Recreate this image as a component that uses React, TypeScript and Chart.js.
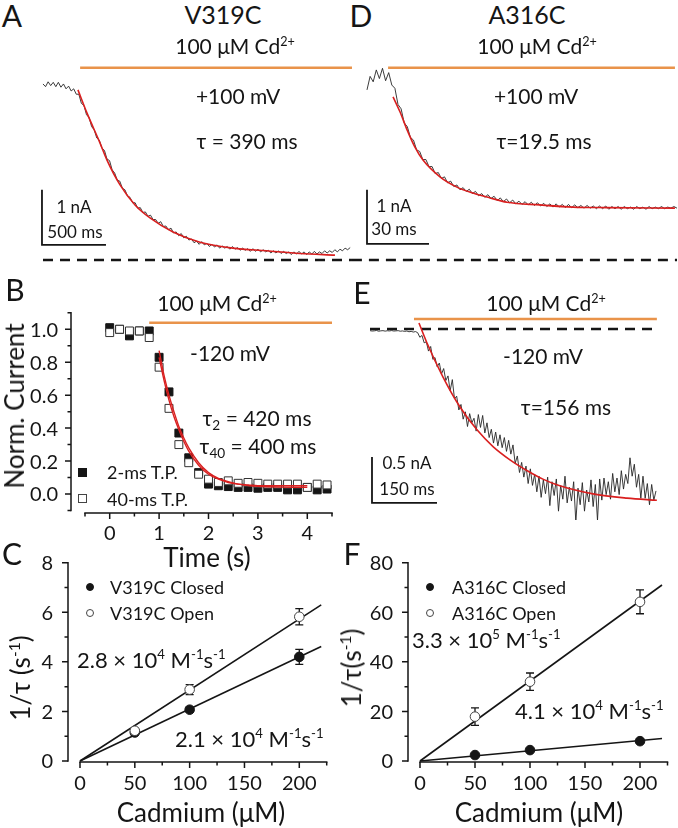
import React, { useEffect, useRef } from "react";
import { Chart, registerables } from "chart.js";

Chart.register(...registerables);

const FONT = "Lato, 'Open Sans', 'DejaVu Sans', sans-serif";
const INK = "#151515";
const RED = "#d91f1f";
const ORANGE = "#e9934a";

// ===== Panel A : V319C, +100 mV (time ms, current nA) =====
const traceA_step = 20;
const traceA = [3.26, 3.21, 3.30, 3.23, 3.29, 3.21, 3.29, 3.20, 3.26, 3.17, 3.22, 3.13, 3.17, 3.07, 3.07, 2.90, 2.86, 2.69, 2.64, 2.47, 2.41, 2.26, 2.22, 2.07, 2.03, 1.87, 1.84, 1.67, 1.61, 1.48, 1.46, 1.33, 1.30, 1.19, 1.16, 1.06, 1.06, 0.96, 0.97, 0.88, 0.89, 0.81, 0.83, 0.75, 0.75, 0.68, 0.71, 0.62, 0.63, 0.56, 0.59, 0.50, 0.52, 0.45, 0.49, 0.41, 0.44, 0.37, 0.39, 0.32, 0.35, 0.29, 0.34, 0.28, 0.31, 0.25, 0.29, 0.24, 0.28, 0.22, 0.26, 0.22, 0.25, 0.20, 0.25, 0.20, 0.23, 0.18, 0.22, 0.18, 0.21, 0.16, 0.21, 0.16, 0.20, 0.15, 0.19, 0.15, 0.18, 0.13, 0.17, 0.13, 0.17, 0.12, 0.16, 0.12, 0.15, 0.10, 0.15, 0.11, 0.16, 0.11, 0.15, 0.10, 0.15, 0.11, 0.16, 0.11, 0.15, 0.12, 0.17, 0.13, 0.17, 0.14, 0.19, 0.15, 0.20, 0.17, 0.22, 0.19, 0.23];
const fitA_t = [273, 344, 445, 500, 602, 719, 836, 1016, 1227, 1484, 1747, 2008, 2281];
const fitA_v = [3.15, 2.72, 2.17, 1.85, 1.39, 1.02, 0.78, 0.52, 0.33, 0.22, 0.17, 0.12, 0.09];
const barA_t = [-8, -8, 492];
const barA_v = [1.30, 0.28, 0.28];
const cdA_t = [290, 2414];
const zeroA_t = [0, 2414];

// ===== Panel D : A316C, +100 mV =====
const traceD_step = 1.5;
const traceD = [3.15, 3.40, 3.30, 3.52, 3.36, 3.55, 3.32, 3.47, 3.24, 3.18, 2.88, 2.80, 2.54, 2.47, 2.27, 2.22, 2.04, 2.01, 1.86, 1.86, 1.73, 1.73, 1.60, 1.62, 1.51, 1.54, 1.43, 1.46, 1.36, 1.39, 1.30, 1.34, 1.27, 1.31, 1.23, 1.27, 1.19, 1.23, 1.16, 1.21, 1.14, 1.18, 1.10, 1.15, 1.08, 1.13, 1.06, 1.11, 1.04, 1.09, 1.03, 1.08, 1.02, 1.07, 1.01, 1.06, 1.00, 1.05, 0.99, 1.04, 0.98, 1.04, 0.98, 1.03, 0.97, 1.03, 0.97, 1.02, 0.97, 1.01, 0.96, 1.01, 0.96, 1.00, 0.95, 1.00, 0.95, 1.00, 0.94, 0.99, 0.95, 0.99, 0.94, 0.99, 0.95, 0.98, 0.94, 0.99, 0.95, 0.98, 0.94, 0.99, 0.95, 0.98, 0.95, 0.99, 0.95, 0.98, 0.96, 0.99, 0.96];
const fitD_t = [12.6, 16, 19.4, 23.2, 27.1, 35.3, 43.5, 51.3, 59.5, 67.7, 83.7, 99.7, 116, 149];
const fitD_v = [3.02, 2.74, 2.41, 2.09, 1.85, 1.54, 1.35, 1.24, 1.15, 1.07, 1.02, 0.98, 0.97, 0.96];
const barD_t = [0, 0, 30];
const barD_v = [1.30, 0.30, 0.30];
const cdD_t = [10.2, 149];
const zeroD_t = [-7.3, 150];
const cdLevelTop = 3.56;

// ===== Panel E : A316C, -120 mV =====
const traceE_step = 5;
const traceE = [-0.018, -0.022, -0.02, -0.016, -0.024, -0.02, -0.018, -0.023, -0.019, -0.021, -0.017, -0.022, -0.02, -0.018, -0.024, -0.021, -0.026, -0.022, -0.03, -0.026, -0.033, -0.028, -0.04, -0.09, -0.07, -0.15, -0.14, -0.24, -0.19, -0.33, -0.31, -0.41, -0.37, -0.49, -0.43, -0.56, -0.51, -0.67, -0.55, -0.76, -0.73, -0.88, -0.82, -0.98, -0.90, -1.06, -0.92, -1.02, -0.97, -1.11, -0.93, -1.07, -0.94, -1.13, -1.02, -1.18, -1.09, -1.24, -1.12, -1.27, -1.15, -1.29, -1.18, -1.33, -1.21, -1.36, -1.26, -1.46, -1.38, -1.56, -1.45, -1.61, -1.49, -1.68, -1.52, -1.70, -1.58, -1.77, -1.60, -1.83, -1.64, -1.79, -1.61, -1.92, -1.66, -1.81, -1.63, -1.98, -1.70, -1.85, -1.60, -1.89, -1.72, -1.87, -1.66, -2.10, -1.73, -1.91, -1.67, -1.98, -1.75, -1.88, -1.64, -1.93, -1.69, -2.08, -1.63, -1.86, -1.62, -1.80, -1.66, -1.85, -1.57, -1.77, -1.62, -1.80, -1.54, -1.74, -1.58, -1.68, -1.40, -1.60, -1.47, -1.72, -1.58, -1.84, -1.60, -1.84, -1.68, -1.91, -1.69, -1.86, -1.76];
const fitE_t = [113, 131.5, 168.5, 207.7, 246.9, 283.9, 323, 362, 399, 438, 514.6, 593, 662];
const fitE_v = [0.065, -0.152, -0.522, -0.848, -1.096, -1.278, -1.422, -1.538, -1.632, -1.705, -1.792, -1.838, -1.862];
const barE_t = [4.6, 4.6, 154.6];
const barE_v = [-1.39, -1.89, -1.89];
const cdE_t = [101.5, 662];
const cdLevelE = 0.109;
const zeroE_t = [0, 662];

// ===== Panel B : normalized current vs time (s) =====
const bTime = [0, 0.2, 0.4, 0.6, 0.8, 1.0, 1.2, 1.4, 1.6, 1.8, 2.0, 2.2, 2.4, 2.6, 2.8, 3.0, 3.2, 3.4, 3.6, 3.8, 4.0, 4.2, 4.4];
const b2ms = [1.01, 1.00, 0.96, 0.99, 0.99, 0.83, 0.62, 0.37, 0.22, 0.13, 0.06, 0.05, 0.045, 0.04, 0.04, 0.035, 0.04, 0.04, 0.025, 0.025, 0.04, 0.025, 0.03];
const b40ms = [0.98, 1.00, 0.99, 0.99, 0.95, 0.77, 0.52, 0.30, 0.19, 0.12, 0.09, 0.07, 0.08, 0.065, 0.07, 0.065, 0.06, 0.06, 0.06, 0.06, 0.04, 0.06, 0.055];
const bFit_t = [1.0, 1.1, 1.2, 1.3, 1.4, 1.5, 1.6, 1.8, 2.0, 2.2, 2.4, 2.6, 2.8, 3.0, 3.5, 4.0];
const bFit2 = [0.87, 0.72, 0.60, 0.50, 0.41, 0.34, 0.28, 0.19, 0.13, 0.095, 0.075, 0.06, 0.052, 0.047, 0.042, 0.04];
const bFit40 = [0.83, 0.69, 0.57, 0.47, 0.39, 0.32, 0.26, 0.175, 0.12, 0.09, 0.07, 0.06, 0.055, 0.05, 0.05, 0.05];
const bCd_t = [0.8, 4.5];
const bCdLevel = 1.04;
const bYTicks = [0, 0.2, 0.4, 0.6, 0.8, 1.0];
const bYLabels = ["0.0", "0.2", "0.4", "0.6", "0.8", "1.0"];
const bYMinor = [-0.1, 0.1, 0.3, 0.5, 0.7, 0.9, 1.1];
const bXTicks = [0, 1, 2, 3, 4];
const bXLabels = ["0", "1", "2", "3", "4"];
const bXMinor = [-0.5, 0.5, 1.5, 2.5, 3.5, 4.5];

// ===== Panel C : V319C rates =====
const cdConc = [50, 100, 200];
const cClosed = [1.15, 2.07, 4.2];
const cClosedErr = [0.1, 0.08, 0.3];
const cOpen = [1.22, 2.88, 5.82];
const cOpenErr = [0.12, 0.2, 0.33];
const fitConc = [0, 220];
const cClosedFit = [0, 4.62];
const cOpenFit = [0, 6.3];
const cYTicks = [0, 2, 4, 6, 8];
const cYLabels = ["0", "2", "4", "6", "8"];
const cYMinor = [1, 3, 5, 7];

// ===== Panel F : A316C rates =====
const fClosed = [2.4, 4.4, 8.0];
const fClosedErr = [0.5, 0.5, 0.8];
const fOpen = [17.9, 32, 64.2];
const fOpenErr = [3.5, 3.5, 4.8];
const fClosedFit = [0, 9.1];
const fOpenFit = [0, 71];
const fYTicks = [0, 20, 40, 60, 80];
const fYLabels = ["0", "20", "40", "60", "80"];
const fYMinor = [10, 30, 50, 70];

const concTicks = [0, 50, 100, 150, 200];
const concLabels = ["0", "50", "100", "150", "200"];
const concMinor = [25, 75, 125, 175, 225];

// ---------- helpers ----------
type Box = { left: number; top: number; width: number; height: number };
type Mapping = { xMin: number; xMax: number; pxL: number; pxR: number; yMin: number; yMax: number; pyB: number; pyT: number };

const pts = (xs: number[], ys: number[]) => xs.map((x, i) => ({ x, y: ys[i] }));
const series = (ys: number[], dt: number) => ys.map((y, i) => ({ x: i * dt, y }));
const flat = (xs: number[], level: number) => xs.map((x) => ({ x, y: level }));

const line = (data: any[], color: string, width: number, extra: any = {}) => ({
  data,
  showLine: true,
  borderColor: color,
  backgroundColor: color,
  borderWidth: width,
  pointRadius: 0,
  pointHoverRadius: 0,
  fill: false,
  tension: 0,
  clip: false,
  ...extra,
});

type AxesCfg = {
  yOff: number;
  xOff: number;
  yLine: [number, number];
  xLine: [number, number];
  yMajor: number[];
  yLabels: string[];
  yMinor: number[];
  xMajor: number[];
  xLabels: string[];
  xMinor: number[];
  yGap: number;
  xGap: number;
};

function axesPlugin(cfg: AxesCfg) {
  return {
    id: "originAxes",
    afterDatasetsDraw(chart: any) {
      const { ctx, chartArea, scales } = chart;
      const xs = scales.x;
      const ys = scales.y;
      const ax = chartArea.left + cfg.yOff;
      const ay = chartArea.bottom + cfg.xOff;
      ctx.save();
      ctx.strokeStyle = INK;
      ctx.fillStyle = INK;
      ctx.lineWidth = 1.5;
      ctx.lineCap = "square";
      ctx.beginPath();
      ctx.moveTo(ax, ys.getPixelForValue(cfg.yLine[0]));
      ctx.lineTo(ax, ys.getPixelForValue(cfg.yLine[1]));
      ctx.moveTo(xs.getPixelForValue(cfg.xLine[0]), ay);
      ctx.lineTo(xs.getPixelForValue(cfg.xLine[1]), ay);
      ctx.stroke();
      ctx.lineCap = "butt";
      ctx.beginPath();
      cfg.yMajor.forEach((v) => {
        const p = ys.getPixelForValue(v);
        ctx.moveTo(ax, p);
        ctx.lineTo(ax - 6, p);
      });
      cfg.yMinor.forEach((v) => {
        const p = ys.getPixelForValue(v);
        ctx.moveTo(ax, p);
        ctx.lineTo(ax - 3.5, p);
      });
      cfg.xMajor.forEach((v) => {
        const p = xs.getPixelForValue(v);
        ctx.moveTo(p, ay);
        ctx.lineTo(p, ay + 6);
      });
      cfg.xMinor.forEach((v) => {
        const p = xs.getPixelForValue(v);
        ctx.moveTo(p, ay);
        ctx.lineTo(p, ay + 3.5);
      });
      ctx.stroke();
      ctx.font = `20px ${FONT}`;
      ctx.textAlign = "right";
      ctx.textBaseline = "middle";
      cfg.yMajor.forEach((v, i) => ctx.fillText(cfg.yLabels[i], ax - cfg.yGap, ys.getPixelForValue(v) + 1));
      ctx.textAlign = "center";
      cfg.xMajor.forEach((v, i) => ctx.fillText(cfg.xLabels[i], xs.getPixelForValue(v), ay + cfg.xGap));
      ctx.restore();
    },
  };
}

const errorBarPlugin = {
  id: "errBars",
  beforeDatasetDraw(chart: any, args: any) {
    const ds: any = chart.data.datasets[args.index];
    if (!ds.errs) return;
    const ys = chart.scales.y;
    const ctx = chart.ctx;
    ctx.save();
    ctx.strokeStyle = INK;
    ctx.lineWidth = 1.3;
    args.meta.data.forEach((pt: any, i: number) => {
      const v = ds.data[i].y;
      const e = ds.errs[i];
      const top = ys.getPixelForValue(v + e);
      const bot = ys.getPixelForValue(v - e);
      ctx.beginPath();
      ctx.moveTo(pt.x, top);
      ctx.lineTo(pt.x, bot);
      ctx.moveTo(pt.x - 4, top);
      ctx.lineTo(pt.x + 4, top);
      ctx.moveTo(pt.x - 4, bot);
      ctx.lineTo(pt.x + 4, bot);
      ctx.stroke();
    });
    ctx.restore();
  },
};

function build(canvas: HTMLCanvasElement, box: Box, m: Mapping, datasets: any[], plugins: any[]) {
  return new Chart(canvas, {
    type: "scatter",
    data: { datasets },
    options: {
      animation: false,
      responsive: false,
      devicePixelRatio: 1,
      events: [],
      layout: {
        padding: {
          left: m.pxL - box.left,
          right: box.left + box.width - m.pxR,
          top: m.pyT - box.top,
          bottom: box.top + box.height - m.pyB,
        },
      },
      plugins: { legend: { display: false }, tooltip: { enabled: false } },
      scales: {
        x: { type: "linear", display: false, bounds: "data", min: m.xMin, max: m.xMax },
        y: { type: "linear", display: false, bounds: "data", min: m.yMin, max: m.yMax },
      },
    } as any,
    plugins,
  });
}

// ---------- layout ----------
const BOX_A: Box = { left: 26, top: 55, width: 334, height: 215 };
const MAP_A: Mapping = { xMin: -100, xMax: 2422, pxL: 30.2, pxR: 353, yMin: -0.1, yMax: 3.7, pyB: 265.4, pyT: 60.2 };
const BOX_D: Box = { left: 340, top: 55, width: 338, height: 215 };
const MAP_D: Mapping = { xMin: -10, xMax: 150, pxL: 346.33, pxR: 677, yMin: -0.1, yMax: 3.7, pyB: 265.4, pyT: 60.2 };
const BOX_E: Box = { left: 355, top: 308, width: 323, height: 212 };
const MAP_E: Mapping = { xMin: 0, xMax: 700, pxL: 370, pxR: 673.33, yMin: -2.0, yMax: 0.2, pyB: 513, pyT: 310.6 };
const BOX_B: Box = { left: 0, top: 300, width: 345, height: 250 };
const MAP_B: Mapping = { xMin: -0.5, xMax: 4.5, pxL: 85, pxR: 332, yMin: -0.1, yMax: 1.1, pyB: 510.47, pyT: 312.83 };
const BOX_C: Box = { left: 0, top: 545, width: 345, height: 283 };
const MAP_C: Mapping = { xMin: 0, xMax: 225, pxL: 80, pxR: 326.7, yMin: 0, yMax: 8, pyB: 761, pyT: 562.7 };
const BOX_F: Box = { left: 345, top: 545, width: 333, height: 283 };
const MAP_F: Mapping = { xMin: 0, xMax: 225, pxL: 420, pxR: 667.5, yMin: 0, yMax: 80, pyB: 761, pyT: 562.7 };

const dashed = (data: any[]) => line(data, INK, 2.5, { borderDash: [10, 7] });
const scaleBar = (data: any[]) => line(data, INK, 1.8, { borderJoinStyle: "miter" });
const cdBar = (data: any[]) => line(data, ORANGE, 2.6);
const trace = (data: any[]) => line(data, "#262626", 0.9);
const redFit = (data: any[], w = 1.6) => line(data, RED, w, { tension: 0.4, cubicInterpolationMode: "monotone" });

const filledCircle = (data: any[], errs: number[]) => ({
  data,
  errs,
  showLine: false,
  pointRadius: 4.8,
  pointStyle: "circle",
  backgroundColor: INK,
  borderColor: INK,
  borderWidth: 1,
  clip: false,
});
const openCircle = (data: any[], errs: number[]) => ({
  data,
  errs,
  showLine: false,
  pointRadius: 4.8,
  pointStyle: "circle",
  backgroundColor: "#ffffff",
  borderColor: "#444",
  borderWidth: 1,
  clip: false,
});

const Sup = ({ children }: { children: React.ReactNode }) => (
  <span style={{ fontSize: "0.6em", position: "relative", top: "-0.65em", lineHeight: 0 }}>{children}</span>
);
const Sub = ({ children }: { children: React.ReactNode }) => (
  <span style={{ fontSize: "0.65em", position: "relative", top: "0.3em", lineHeight: 0 }}>{children}</span>
);

const T = ({ x, y, size, children, align = "center", rotate = false }: any) => (
  <div
    style={{
      position: "absolute",
      left: x,
      top: y,
      fontSize: size,
      lineHeight: 1,
      whiteSpace: "nowrap",
      transform: `translate(${align === "center" ? "-50%" : "0"}, -50%)${rotate ? " rotate(-90deg)" : ""}`,
    }}
  >
    {children}
  </div>
);

const Marker = ({ x, y, size, shape, filled }: any) => (
  <div
    style={{
      position: "absolute",
      left: x - size / 2,
      top: y - size / 2,
      width: size,
      height: size,
      boxSizing: "border-box",
      borderRadius: shape === "circle" ? "50%" : 0,
      background: filled ? INK : "#fff",
      border: `1px solid ${filled ? INK : "#444"}`,
    }}
  />
);

const Rate = ({ mant, exp }: { mant: string; exp: string }) => (
  <span>
    {mant} × 10<Sup>{exp}</Sup> M<Sup>-1</Sup>s<Sup>-1</Sup>
  </span>
);

export default function App() {
  const rA = useRef<HTMLCanvasElement>(null);
  const rD = useRef<HTMLCanvasElement>(null);
  const rB = useRef<HTMLCanvasElement>(null);
  const rE = useRef<HTMLCanvasElement>(null);
  const rC = useRef<HTMLCanvasElement>(null);
  const rF = useRef<HTMLCanvasElement>(null);

  useEffect(() => {
    const charts: Chart[] = [];

    charts.push(
      build(rA.current!, BOX_A, MAP_A, [
        redFit(pts(fitA_t, fitA_v)),
        trace(series(traceA, traceA_step)),
        cdBar(flat(cdA_t, cdLevelTop)),
        dashed(flat(zeroA_t, 0)),
        scaleBar(pts(barA_t, barA_v)),
      ], [])
    );

    charts.push(
      build(rD.current!, BOX_D, MAP_D, [
        redFit(pts(fitD_t, fitD_v)),
        trace(series(traceD, traceD_step)),
        cdBar(flat(cdD_t, cdLevelTop)),
        dashed(flat(zeroD_t, 0)),
        scaleBar(pts(barD_t, barD_v)),
      ], [])
    );

    charts.push(
      build(rE.current!, BOX_E, MAP_E, [
        redFit(pts(fitE_t, fitE_v)),
        trace(series(traceE, traceE_step)),
        cdBar(flat(cdE_t, cdLevelE)),
        dashed(flat(zeroE_t, 0)),
        scaleBar(pts(barE_t, barE_v)),
      ], [])
    );

    charts.push(
      build(rB.current!, BOX_B, MAP_B, [
        redFit(pts(bFit_t, bFit2), 1.4),
        redFit(pts(bFit_t, bFit40), 1.4),
        {
          data: pts(bTime, b40ms),
          showLine: false,
          pointStyle: "rect",
          pointRadius: 5.6,
          backgroundColor: "#fff",
          borderColor: "#333",
          borderWidth: 1,
          clip: false,
        },
        {
          data: pts(bTime, b2ms),
          showLine: false,
          pointStyle: "rect",
          pointRadius: 5.6,
          backgroundColor: INK,
          borderColor: INK,
          borderWidth: 1,
          clip: false,
        },
        cdBar(flat(bCd_t, bCdLevel)),
      ], [
        axesPlugin({
          yOff: -14, xOff: 2.5, yLine: [-0.1, 1.1], xLine: [-0.5, 4.5],
          yMajor: bYTicks, yLabels: bYLabels, yMinor: bYMinor,
          xMajor: bXTicks, xLabels: bXLabels, xMinor: bXMinor,
          yGap: 13, xGap: 21,
        }),
      ])
    );

    charts.push(
      build(rC.current!, BOX_C, MAP_C, [
        openCircle(pts(cdConc, cOpen), cOpenErr),
        filledCircle(pts(cdConc, cClosed), cClosedErr),
        line(pts(fitConc, cOpenFit), INK, 1.6),
        line(pts(fitConc, cClosedFit), INK, 1.6),
      ], [
        errorBarPlugin,
        axesPlugin({
          yOff: -12, xOff: 1, yLine: [0, 8], xLine: [0, 225],
          yMajor: cYTicks, yLabels: cYLabels, yMinor: cYMinor,
          xMajor: concTicks, xLabels: concLabels, xMinor: concMinor,
          yGap: 15, xGap: 21.5,
        }),
      ])
    );

    charts.push(
      build(rF.current!, BOX_F, MAP_F, [
        openCircle(pts(cdConc, fOpen), fOpenErr),
        filledCircle(pts(cdConc, fClosed), fClosedErr),
        line(pts(fitConc, fOpenFit), INK, 1.6),
        line(pts(fitConc, fClosedFit), INK, 1.6),
      ], [
        errorBarPlugin,
        axesPlugin({
          yOff: -12, xOff: 1, yLine: [0, 80], xLine: [0, 225],
          yMajor: fYTicks, yLabels: fYLabels, yMinor: fYMinor,
          xMajor: concTicks, xLabels: concLabels, xMinor: concMinor,
          yGap: 15, xGap: 21.5,
        }),
      ])
    );

    return () => charts.forEach((c) => c.destroy());
  }, []);

  const cv = (ref: any, b: Box) => (
    <canvas ref={ref} width={b.width} height={b.height} style={{ position: "absolute", left: b.left, top: b.top, width: b.width, height: b.height }} />
  );

  return (
    <div
      style={{
        position: "absolute",
        left: 0,
        top: 0,
        width: 678,
        height: 828,
        background: "#fff",
        overflow: "hidden",
        fontFamily: FONT,
        color: INK,
      }}
    >
      {cv(rA, BOX_A)}
      {cv(rD, BOX_D)}
      {cv(rB, BOX_B)}
      {cv(rE, BOX_E)}
      {cv(rC, BOX_C)}
      {cv(rF, BOX_F)}

      {/* Panel A */}
      <T x={12} y={15} size={30}>A</T>
      <T x={223} y={14} size={25}>V319C</T>
      <T x={235} y={45} size={21}>100 μM Cd<Sup>2+</Sup></T>
      <T x={238} y={95} size={21}>+100 mV</T>
      <T x={247} y={140} size={21}>τ = 390 ms</T>
      <T x={74} y={206} size={17}>1 nA</T>
      <T x={75} y={231} size={17}>500 ms</T>

      {/* Panel D */}
      <T x={361} y={15} size={30}>D</T>
      <T x={527} y={14} size={25}>A316C</T>
      <T x={537} y={45} size={21}>100 μM Cd<Sup>2+</Sup></T>
      <T x={536} y={95} size={21}>+100 mV</T>
      <T x={544} y={140} size={21}>τ=19.5 ms</T>
      <T x={394} y={205} size={17}>1 nA</T>
      <T x={394} y={228} size={17}>30 ms</T>

      {/* Panel B */}
      <T x={15} y={289} size={30}>B</T>
      <T x={217} y={302} size={21}>100 μM Cd<Sup>2+</Sup></T>
      <T x={230} y={352} size={21}>-120 mV</T>
      <T x={257} y={417} size={21}>τ<Sub>2</Sub> = 420 ms</T>
      <T x={258} y={445} size={21}>τ<Sub>40</Sub> = 400 ms</T>
      <Marker x={82} y={472} size={9} shape="square" filled />
      <Marker x={82} y={498} size={9} shape="square" filled={false} />
      <T x={107} y={472} size={18} align="left">2-ms T.P.</T>
      <T x={107} y={499} size={18} align="left">40-ms T.P.</T>
      <T x={14} y={406} size={26} rotate>Norm. Current</T>
      <T x={207} y={557} size={26}>Time (s)</T>

      {/* Panel E */}
      <T x={362} y={292} size={30}>E</T>
      <T x={546} y={302} size={21}>100 μM Cd<Sup>2+</Sup></T>
      <T x={543} y={355} size={21}>-120 mV</T>
      <T x={566} y={406} size={21}>τ=156 ms</T>
      <T x={407} y={462} size={17}>0.5 nA</T>
      <T x={407} y={488} size={17}>150 ms</T>

      {/* Panel C */}
      <T x={12} y={553} size={30}>C</T>
      <Marker x={90} y={587} size={8} shape="circle" filled />
      <Marker x={90} y={613} size={8} shape="circle" filled={false} />
      <T x={110} y={587} size={18} align="left">V319C Closed</T>
      <T x={110} y={613} size={18} align="left">V319C Open</T>
      <T x={77} y={660} size={22} align="left"><Rate mant="2.8" exp="4" /></T>
      <T x={175} y={739} size={22} align="left"><Rate mant="2.1" exp="4" /></T>
      <T x={20} y={678} size={26} rotate>1/τ (s<Sup>-1</Sup>)</T>
      <T x={201} y={812} size={26}>Cadmium (μM)</T>

      {/* Panel F */}
      <T x={352} y={553} size={30}>F</T>
      <Marker x={430} y={587} size={8} shape="circle" filled />
      <Marker x={430} y={613} size={8} shape="circle" filled={false} />
      <T x={452} y={587} size={18} align="left">A316C Closed</T>
      <T x={452} y={613} size={18} align="left">A316C Open</T>
      <T x={412} y={640} size={22} align="left"><Rate mant="3.3" exp="5" /></T>
      <T x={515} y={711} size={22} align="left"><Rate mant="4.1" exp="4" /></T>
      <T x={351} y={668} size={26} rotate>1/τ(s<Sup>-1</Sup>)</T>
      <T x={539} y={812} size={26}>Cadmium (μM)</T>
    </div>
  );
}
